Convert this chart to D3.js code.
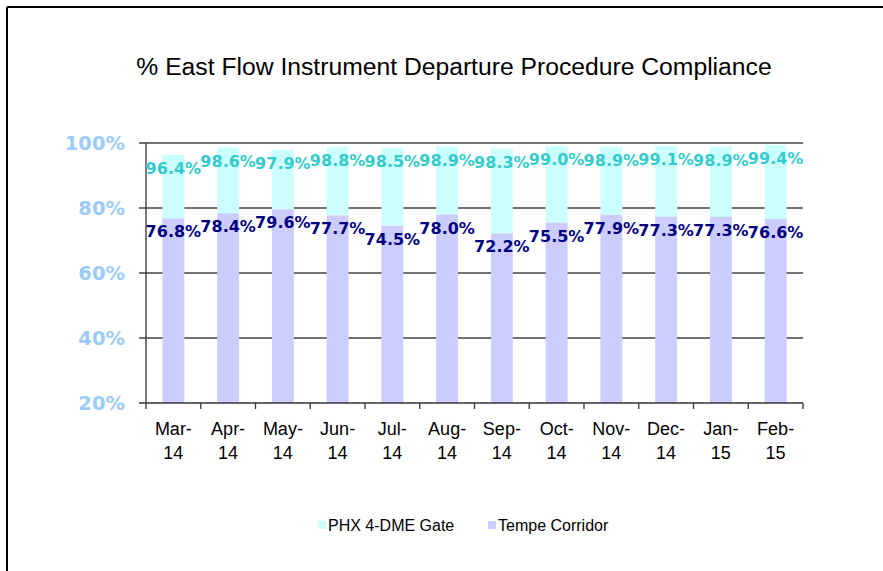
<!DOCTYPE html>
<html>
<head>
<meta charset="utf-8">
<script src="https://cdn.jsdelivr.net/npm/d3@7"></script>
<style>
body { margin: 0; background: #fff; }
svg { display: block; }
</style>
</head>
<body>
<svg id="chart"></svg>
<script>
//data
var months = ["Mar-14", "Apr-14", "May-14", "Jun-14", "Jul-14", "Aug-14", "Sep-14", "Oct-14", "Nov-14", "Dec-14", "Jan-15", "Feb-15"]
var phxGate = [96.4, 98.6, 97.9, 98.8, 98.5, 98.9, 98.3, 99.0, 98.9, 99.1, 98.9, 99.4]
var tempe = [76.8, 78.4, 79.6, 77.7, 74.5, 78.0, 72.2, 75.5, 77.9, 77.3, 77.3, 76.6]
var yTicks = [20, 40, 60, 80, 100]
var seriesNames = ["PHX 4-DME Gate", "Tempe Corridor"]

var width = 883
var height = 571
var svg = d3.select("#chart").attr("width", width).attr("height", height)

//frame lines (top and left only, like the slide)
svg.append("line").attr("x1", 7).attr("x2", width).attr("y1", 7).attr("y2", 7)
	.attr("stroke", "#000").attr("stroke-width", 2)
svg.append("line").attr("x1", 7).attr("x2", 7).attr("y1", 7).attr("y2", height)
	.attr("stroke", "#000").attr("stroke-width", 2)

svg.append("text")
	.attr("x", 454).attr("y", 75)
	.attr("text-anchor", "middle")
	.style("font-family", "Liberation Sans, Arial, sans-serif")
	.style("font-size", "24.7px")
	.text("% East Flow Instrument Departure Procedure Compliance")

var plotL = 146, plotR = 803, plotT = 143, plotB = 403

var x = d3.scaleBand().domain(months).range([plotL, plotR]).paddingInner(0.6).paddingOuter(0.3)
var xb = d3.scaleBand().domain(months).range([plotL, plotR])
var y = d3.scaleLinear().domain([20, 100]).range([plotB, plotT])

//gridlines
svg.append("g").selectAll("line")
	.data(yTicks.filter(d => d > 20))
	.enter().append("line")
	.attr("x1", plotL - 7).attr("x2", plotR)
	.attr("y1", d => y(d)).attr("y2", d => y(d))
	.attr("stroke", "#444").attr("stroke-width", 1.3)

//stacked bars: tempe from the 20% floor, phx on top of it
var bars = svg.append("g")
bars.selectAll("rect.phx")
	.data(months)
	.enter().append("rect")
	.attr("class", "phx")
	.attr("x", d => x(d))
	.attr("width", x.bandwidth())
	.attr("y", (d, i) => y(phxGate[i]))
	.attr("height", (d, i) => y(tempe[i]) - y(phxGate[i]))
	.attr("fill", "#ccffff")
bars.selectAll("rect.tempe")
	.data(months)
	.enter().append("rect")
	.attr("class", "tempe")
	.attr("x", d => x(d))
	.attr("width", x.bandwidth())
	.attr("y", (d, i) => y(tempe[i]))
	.attr("height", (d, i) => y(20) - y(tempe[i]))
	.attr("fill", "#ccccff")

//axes
svg.append("line").attr("x1", plotL).attr("x2", plotL).attr("y1", plotT).attr("y2", plotB)
	.attr("stroke", "#333").attr("stroke-width", 1.3)
svg.append("line").attr("x1", plotL - 7).attr("x2", plotR).attr("y1", plotB).attr("y2", plotB)
	.attr("stroke", "#333").attr("stroke-width", 1.5)
svg.append("g").selectAll("line")
	.data(months)
	.enter().append("line")
	.attr("x1", d => xb(d) + xb.bandwidth()).attr("x2", d => xb(d) + xb.bandwidth())
	.attr("y1", plotB).attr("y2", plotB + 6)
	.attr("stroke", "#333").attr("stroke-width", 1.3)
svg.append("line").attr("x1", plotL).attr("x2", plotL).attr("y1", plotB).attr("y2", plotB + 6)
	.attr("stroke", "#333").attr("stroke-width", 1.3)

svg.append("g").selectAll("text")
	.data(yTicks)
	.enter().append("text")
	.attr("x", 125).attr("y", d => y(d) + 7)
	.attr("text-anchor", "end")
	.style("font-family", "DejaVu Sans, Verdana, sans-serif")
	.style("font-weight", "bold")
	.style("font-size", "19.5px")
	.attr("fill", "#9ccbfa")
	.text(d => d + "%")

var xl = svg.append("g").selectAll("text")
	.data(months)
	.enter().append("text")
	.attr("text-anchor", "middle")
	.attr("x", d => xb(d) + xb.bandwidth() / 2)
	.attr("y", 435)
	.style("font-family", "Liberation Sans, Arial, sans-serif")
	.style("font-size", "18px")
	.attr("fill", "#000")
xl.append("tspan").attr("x", d => xb(d) + xb.bandwidth() / 2).text(d => d.split("-")[0] + "-")
xl.append("tspan").attr("x", d => xb(d) + xb.bandwidth() / 2).attr("dy", 24).text(d => d.split("-")[1])

//data labels
var labelFont = "DejaVu Sans, Verdana, sans-serif"
svg.append("g").selectAll("text")
	.data(phxGate)
	.enter().append("text")
	.attr("text-anchor", "middle")
	.attr("x", (d, i) => x(months[i]) + x.bandwidth() / 2)
	.attr("y", d => y(d) + 19)
	.style("font-family", labelFont).style("font-weight", "bold").style("font-size", "16px")
	.attr("fill", "#33cccc")
	.text(d => d.toFixed(1) + "%")
svg.append("g").selectAll("text")
	.data(tempe)
	.enter().append("text")
	.attr("text-anchor", "middle")
	.attr("x", (d, i) => x(months[i]) + x.bandwidth() / 2)
	.attr("y", d => y(d) + 19)
	.style("font-family", labelFont).style("font-weight", "bold").style("font-size", "16px")
	.attr("fill", "#000080")
	.text(d => d.toFixed(1) + "%")

//legend
var legendColors = ["#ccffff", "#ccccff"]
var legendX = [318, 488]
var lg = svg.append("g").selectAll("g")
	.data(seriesNames)
	.enter().append("g")
	.attr("transform", (d, i) => "translate(" + legendX[i] + ",521)")
lg.append("rect").attr("width", 8).attr("height", 8).attr("fill", (d, i) => legendColors[i])
lg.append("text").attr("x", 10).attr("y", 10)
	.style("font-family", "Liberation Sans, Arial, sans-serif")
	.style("font-size", "16px")
	.attr("fill", "#000")
	.text(d => d)
</script>
</body>
</html>
